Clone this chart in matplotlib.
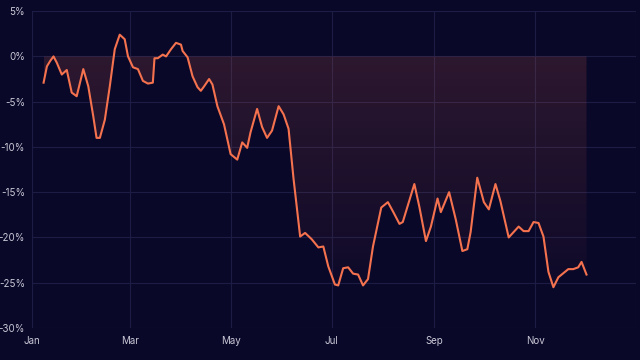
import numpy as np
import pandas as pd
import matplotlib
matplotlib.use("Agg")
import matplotlib.pyplot as plt
import matplotlib.dates as mdates
from matplotlib.ticker import FuncFormatter
from matplotlib.colors import LinearSegmentedColormap
from matplotlib.path import Path
from matplotlib.patches import PathPatch

# days since Jan 1 and cumulative return in %
day = [7, 9, 11, 13, 15, 18, 21, 24, 27, 31, 34, 37, 39, 41, 44, 47, 50, 53, 56, 58,
       61, 64, 67, 70, 73, 74, 76, 79, 81, 84, 87, 90, 91, 94, 97, 100, 102, 104, 107, 109,
       112, 116, 120, 124, 127, 130, 132, 136, 139, 142, 145, 149, 152, 155, 158, 162, 165, 169, 173, 176,
       179, 183, 185, 188, 191, 194, 197, 200, 203, 206, 211, 215, 218, 222, 224, 231, 234, 238, 241, 245,
       247, 252, 256, 260, 263, 265, 269, 273, 276, 280, 283, 288, 291, 294, 297, 300, 303, 306, 309, 312,
       315, 318, 324, 327, 330, 332, 335]
ret = [-2.9, -1.1, -0.5, 0.0, -0.7, -2.0, -1.5, -4.0, -4.4, -1.4, -3.3, -6.6, -9.0, -9.0, -7.0, -3.3, 0.8, 2.4, 1.9, 0.0,
       -1.2, -1.4, -2.7, -3.0, -2.9, -0.2, -0.2, 0.2, 0.0, 0.8, 1.5, 1.3, 0.6, -0.1, -2.2, -3.4, -3.8, -3.3, -2.5, -3.1,
       -5.5, -7.5, -10.8, -11.4, -9.5, -10.1, -8.4, -5.8, -7.8, -9.0, -8.2, -5.5, -6.4, -8.0, -13.5, -19.9, -19.5, -20.2, -21.1, -21.0,
       -23.2, -25.2, -25.3, -23.4, -23.3, -24.0, -24.1, -25.3, -24.6, -21.0, -16.7, -16.1, -17.1, -18.5, -18.3, -14.1, -16.6, -20.4, -18.8, -15.7,
       -17.2, -15.0, -18.0, -21.5, -21.3, -19.4, -13.4, -16.1, -16.9, -14.1, -16.0, -20.0, -19.4, -18.8, -19.3, -19.3, -18.3, -18.4, -19.9, -23.8,
       -25.5, -24.4, -23.5, -23.5, -23.3, -22.7, -24.1]
month_ticks = ["2023-01-01", "2023-03-01", "2023-05-01", "2023-07-01", "2023-09-01", "2023-11-01"]
month_labels = ["Jan", "Mar", "May", "Jul", "Sep", "Nov"]

dates = pd.Timestamp("2023-01-01") + pd.to_timedelta(day, unit="D")
y = np.array(ret)

bg = "#0a0829"
line_color = "#f5724f"
text_color = "#c9c8d6"

fig = plt.figure(figsize=(6.4, 3.6), dpi=100, facecolor=bg)
ax = fig.add_axes([0.05, 0.089, 0.944, 0.88], facecolor=bg)

x0 = mdates.date2num(pd.Timestamp("2023-01-01"))
x1 = mdates.date2num(pd.Timestamp("2024-01-01"))
ax.set_xlim(x0, x1)
ax.set_ylim(-30, 5)

# gradient fill between the line and zero
xn = mdates.date2num(dates)
poly = ax.fill_between(xn, y, 0, where=y < 0, interpolate=True, color="none", lw=0)
cmap = LinearSegmentedColormap.from_list("g", [(0.96, 0.45, 0.31, 0.02), (0.96, 0.45, 0.31, 0.15)])
grad = np.linspace(0, 1, 256).reshape(-1, 1)
im = ax.imshow(grad, cmap=cmap, aspect="auto", origin="lower",
               extent=[xn[0], xn[-1], y.min(), 0], zorder=1)
paths = poly.get_paths()
verts = np.concatenate([p.vertices for p in paths])
codes = np.concatenate([p.codes if p.codes is not None else
                        np.r_[Path.MOVETO, [Path.LINETO] * (len(p.vertices) - 1)] for p in paths])
clip = PathPatch(Path(verts, codes), transform=ax.transData, facecolor="none", edgecolor="none")
ax.add_patch(clip)
im.set_clip_path(clip)

ax.plot(dates, y, color=line_color, lw=1.5, zorder=3, solid_joinstyle="round")

ax.set_yticks(np.arange(-30, 6, 5))
ax.yaxis.set_major_formatter(FuncFormatter(lambda v, p: f"{v:.0f}%"))
ax.set_xticks(mdates.date2num(pd.to_datetime(month_ticks)), month_labels)
# grid line at the right edge without a label
ax.axvline(x1, color="#1d1c45", lw=0.8, zorder=0)

ax.grid(True, color="#1d1c45", lw=0.8)
ax.set_axisbelow(True)
for s in ax.spines.values():
    s.set_visible(False)
ax.tick_params(length=0, colors=text_color, labelsize=7)
ax.tick_params(axis="y", pad=5)
ax.tick_params(axis="x", pad=6)
for lab in ax.get_xticklabels() + ax.get_yticklabels():
    lab.set_fontfamily("Inter")

fig.savefig("out.png", dpi=100, facecolor=bg)
